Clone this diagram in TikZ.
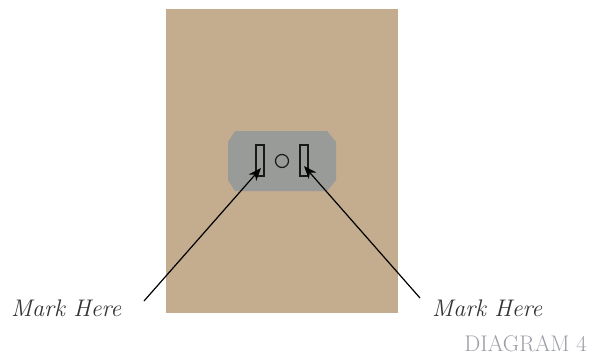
\documentclass[tikz,border=0pt]{standalone}
\usepackage{xcolor}
\usetikzlibrary{arrows.meta}
\definecolor{boardtan}{HTML}{C4AC8E}
\definecolor{plategray}{HTML}{989B97}
\definecolor{titlegray}{HTML}{9C9EA6}
\tikzset{
  marklabel/.style={font=\fontsize{24}{24}\selectfont\itshape, text=black!80, inner sep=0pt, anchor=base west},
  markarrow/.style={line width=1.2pt, black, -{Stealth[length=13pt,width=10pt]}},
  slotbox/.style={draw=black!90, line width=1.3pt}
}
\begin{document}
\begin{tikzpicture}[x=1pt,y=-1pt]
\useasboundingbox (0,0) rectangle (589,354);
\fill[boardtan] (166,9) rectangle (398,313);
\fill[plategray] (235,131) -- (327,131) -- (336,142) -- (336,180) -- (327,191) -- (235,191) -- (228,180) -- (228,142) -- cycle;
\draw[slotbox] (256,145) rectangle (264,176);
\draw[slotbox] (300,145) rectangle (308,176);
\draw[black!90, line width=1.2pt] (282,161) circle (6.5);

\node[marklabel] (markL) at (11,316) {Mark Here};
\node[marklabel] (markR) at (432,316) {Mark Here};
\node[font=\fontsize{22.6}{23}\selectfont, text=titlegray, inner sep=0pt, anchor=base east] (title) at (587,351) {DIAGRAM 4};

\coordinate (tailL) at (144,301);
\coordinate (tipL) at (261,168);
\coordinate (tailR) at (420,298);
\coordinate (tipR) at (304,166);
\draw[markarrow] (tailL) -- (tipL);
\draw[markarrow] (tailR) -- (tipR);
\end{tikzpicture}
\end{document}
